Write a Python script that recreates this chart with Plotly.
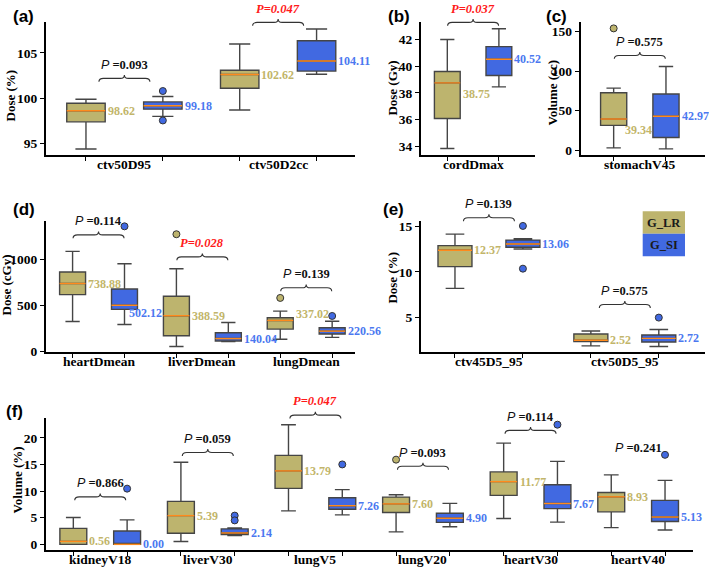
import plotly.graph_objects as go

# ---------------- data ----------------
# every box is [lower whisker, q1, median, q3, upper whisker]
a_cats = ["ctv50D95", "ctv50D2cc"]
a_lr = [[94.4, 97.4, 98.62, 99.45, 99.9], [98.7, 101.1, 102.62, 103.1, 106.0]]
a_si = [[98.0, 98.8, 99.18, 99.6, 100.2], [102.65, 103.0, 104.11, 106.35, 107.65]]
a_lr_out = [[], []]
a_si_out = [[100.8, 97.55], []]
a_p = [0.093, 0.047]
a_brace = [102.2, 108.38]

b_cats = ["cordDmax"]
b_lr = [[33.83, 36.08, 38.75, 39.6, 42.0]]
b_si = [[38.45, 39.3, 40.52, 41.46, 42.8]]
b_lr_out = [[]]
b_si_out = [[]]
b_p = [0.037]
b_brace = [43.28]

c_cats = ["stomachV45"]
c_lr = [[2.9, 31.4, 39.34, 72.7, 78.5]]
c_si = [[1.6, 16.1, 42.97, 71.0, 105.8]]
c_lr_out = [[154]]
c_si_out = [[]]
c_p = [0.575]
c_brace = [119.8]

d_cats = ["heartDmean", "liverDmean", "lungDmean"]
d_lr = [[325, 618, 738.88, 864, 1089], [54, 171, 388.59, 600, 900], [132, 243, 337.02, 367, 439]]
d_si = [[293, 457, 502.12, 679, 954], [107, 114, 140.04, 204, 314], [153, 190, 220.56, 257, 329]]
d_lr_out = [[], [1275], [582]]
d_si_out = [[1361], [], [386]]
d_p = [0.114, 0.028, 0.139]
d_brace = [1268, 1029, 692]

e_cats = ["ctv45D5_95", "ctv50D5_95"]
e_lr = [[8.2, 10.58, 12.37, 12.88, 14.14], [1.9, 2.37, 2.52, 3.2, 3.53]]
e_si = [[12.52, 12.7, 13.06, 13.49, 13.63], [1.83, 2.33, 2.72, 3.1, 3.7]]
e_lr_out = [[], []]
e_si_out = [[15.04, 10.36], [5.0]]
e_p = [0.139, 0.575]
e_brace = [15.94, 6.44]

f_cats = ["kidneyV18", "liverV30", "lungV5", "lungV20", "heartV30", "heartV40"]
f_lr = [[0, 0, 0.56, 3.0, 5.05], [0.55, 2.1, 5.39, 8.06, 15.4], [6.28, 10.5, 13.79, 16.7, 22.46],
        [2.34, 5.97, 7.60, 8.87, 9.3], [4.86, 9.2, 11.77, 13.6, 19.0], [3.14, 6.1, 8.93, 9.72, 13.05]]
f_si = [[0, 0, 0.0, 2.5, 4.6], [1.66, 1.85, 2.14, 2.9, 3.08], [5.54, 6.6, 7.26, 8.74, 10.28],
        [3.32, 4.12, 4.90, 5.85, 7.7], [4.18, 6.7, 7.67, 11.2, 15.57], [2.7, 4.3, 5.13, 8.25, 12.0]]
f_lr_out = [[], [], [], [15.9], [], []]
f_si_out = [[10.46], [5.4, 4.5], [15.0], [], [22.46], [16.8]]
f_p = [0.866, 0.059, 0.047, 0.093, 0.114, 0.241]
f_brace = [8.92, 17.23, 24.25, 14.65, 21.4, 15.45]
f_brace_drawn = [True, True, True, True, True, False]

# median labels that were pushed away from the median line (panel, category, group): y value
moved_labels = {("c", 0, 0): 25.2, ("b", 0, 0): 37.9, ("d", 0, 1): 420, ("d", 2, 0): 405}

# ---------------- styling ----------------
W, H = 709, 574
LR_FILL = "#BDB46E"
SI_FILL = "#4169E1"
LR_TXT = "#C2B56A"
SI_TXT = "#4B78F0"
EDGE = "#454545"
MED = "#FF8A1C"
SERIF = "Liberation Serif, Times New Roman, serif"
SANS = "Liberation Sans, Arial, sans-serif"

panels = [
    dict(tag="(a)", cats=a_cats, lr=a_lr, si=a_si, lr_out=a_lr_out, si_out=a_si_out, p=a_p, brace=a_brace,
         px=(46, 20.7, 355, 155.5), xr=(-0.51, 1.5), yr=(93.73, 108.38), yt=[95, 100, 105],
         title="Dose (%)", title_xy=(11, 95), tag_xy=(23, 15)),
    dict(tag="(b)", cats=b_cats, lr=b_lr, si=b_si, lr_out=b_lr_out, si_out=b_si_out, p=b_p, brace=b_brace,
         px=(421, 20.7, 535, 155.5), xr=(-0.505, 0.6), yr=(33.34, 43.28), yt=[34, 36, 38, 40, 42],
         title="Dose (Gy)", title_xy=(393, 88), tag_xy=(399, 15)),
    dict(tag="(c)", cats=c_cats, lr=c_lr, si=c_si, lr_out=c_lr_out, si_out=c_si_out, p=c_p, brace=c_brace,
         px=(580.7, 20.7, 705, 155.5), xr=(-0.565, 0.623), yr=(-6.2, 161.6), yt=[0, 50, 100, 150],
         title="Volume (cc)", title_xy=(553, 92), tag_xy=(556, 15)),
    dict(tag="(d)", cats=d_cats, lr=d_lr, si=d_si, lr_out=d_lr_out, si_out=d_si_out, p=d_p, brace=d_brace,
         px=(46, 222.3, 355, 355.7), xr=(-0.506, 2.47), yr=(-7.5, 1421), yt=[0, 500, 1000],
         title="Dose (cGy)", title_xy=(6, 288), tag_xy=(24, 211)),
    dict(tag="(e)", cats=e_cats, lr=e_lr, si=e_si, lr_out=e_lr_out, si_out=e_si_out, p=e_p, brace=e_brace,
         px=(421, 222.3, 705, 355.7), xr=(-0.5, 1.59), yr=(1.22, 15.6), yt=[5, 10, 15],
         title="Dose (%)", title_xy=(393, 280), tag_xy=(393, 211)),
    dict(tag="(f)", cats=f_cats, lr=f_lr, si=f_si, lr_out=f_lr_out, si_out=f_si_out, p=f_p, brace=f_brace,
         drawn=f_brace_drawn, px=(46, 422.7, 693, 556.7), xr=(-0.504, 5.51), yr=(-1.05, 23.7),
         yt=[0, 5, 10, 15, 20], title="Volume (%)", title_xy=(17, 486), tag_xy=(15, 416)),
]

fig = go.Figure()
annotations = []
shapes = []
BW = 0.25

for n, pn in enumerate(panels, start=1):
    xa = "x" if n == 1 else f"x{n}"
    ya = "y" if n == 1 else f"y{n}"
    x0, y0, x1, y1 = pn["px"]
    key = pn["tag"][1]

    def to_px(xv, yv, pn=pn):
        X0, Y0, X1, Y1 = pn["px"]
        xr, yr = pn["xr"], pn["yr"]
        return (X0 + (xv - xr[0]) / (xr[1] - xr[0]) * (X1 - X0),
                Y1 - (yv - yr[0]) / (yr[1] - yr[0]) * (Y1 - Y0))

    tick_pos = []
    for j, cat in enumerate(pn["cats"]):
        groups = [(pn["lr"][j], pn["lr_out"][j], LR_FILL, LR_TXT, -0.25),
                  (pn["si"][j], pn["si_out"][j], SI_FILL, SI_TXT, 0.25)]
        for g, (st, out, fill, tcol, off) in enumerate(groups):
            pos = j + off
            tick_pos.append(pos)
            lo, q1, med, q3, hi = st
            fig.add_trace(go.Box(
                x=[pos], lowerfence=[lo], q1=[q1], median=[med], q3=[q3], upperfence=[hi],
                width=BW, whiskerwidth=0.55, fillcolor=fill, line=dict(color=EDGE, width=1.4),
                xaxis=xa, yaxis=ya, showlegend=False, hoverinfo="skip"))
            fig.add_trace(go.Scatter(
                x=[pos - BW / 2, pos + BW / 2], y=[med, med], mode="lines",
                line=dict(color=MED, width=1.4), xaxis=xa, yaxis=ya,
                showlegend=False, hoverinfo="skip"))
            if out:
                fig.add_trace(go.Scatter(
                    x=[pos] * len(out), y=out, mode="markers", cliponaxis=False,
                    marker=dict(color=fill, size=7, line=dict(color="#333333", width=1)),
                    xaxis=xa, yaxis=ya, showlegend=False, hoverinfo="skip"))
            ly = moved_labels.get((key, j, g), med)
            xs = 1.5
            if (key, j, g) == ("c", 0, 0):
                xs = -3
            if (key, j, g) == ("d", 0, 1):
                xs = -9
            annotations.append(dict(
                x=pos + BW / 2, y=ly, xref=xa, yref=ya, xanchor="left", yanchor="middle",
                xshift=xs, text=f"<b>{med:.2f}</b>", showarrow=False, borderpad=0,
                font=dict(family=SERIF, size=12, color=tcol)))

        # category label under the pair of boxes
        cx, _ = to_px(j, 0)
        annotations.append(dict(
            x=cx / W, y=1 - (y1 + 9.5) / H, xref="paper", yref="paper", xanchor="center",
            yanchor="middle", text=f"<b>{cat}</b>", showarrow=False,
            font=dict(family=SERIF, size=13.5, color="black")))

        # p-value brace and text
        p = pn["p"][j]
        by = pn["brace"][j]
        if p < 0.05:
            ptxt = f"<b><i>P={p:.3f}</i></b>"
            pcol = "#FF1A1A"
        else:
            ptxt = (f"<span style=\"font-family:'Liberation Sans'\"><i>P</i></span>"
                    f" <b>={p:.3f}</b>")
            pcol = "#111111"
        cx, fy = to_px(j, by)
        annotations.append(dict(
            x=cx / W, y=1 - (fy - 14) / H, xref="paper", yref="paper", yanchor="middle",
            xanchor="center", text=ptxt, showarrow=False,
            font=dict(family=SERIF, size=12.5, color=pcol)))
        if pn.get("drawn", [True] * len(pn["cats"]))[j]:
            pts = [("M", cx - 25.5, fy + 3.5), ("Q", cx - 25.5, fy), ("", cx - 21, fy),
                   ("L", cx - 4, fy), ("Q", cx, fy), ("", cx, fy - 3.5),
                   ("Q", cx, fy), ("", cx + 4, fy), ("L", cx + 21, fy),
                   ("Q", cx + 25.5, fy), ("", cx + 25.5, fy + 3.5)]
            path = " ".join(f"{c} {px / W:.5f},{1 - py / H:.5f}" if c else f"{px / W:.5f},{1 - py / H:.5f}"
                            for c, px, py in pts)
            shapes.append(dict(type="path", path=path, xref="paper", yref="paper",
                               line=dict(color="#333333", width=1.1)))

    dom_x = [x0 / W, x1 / W]
    dom_y = [1 - y1 / H, 1 - y0 / H]
    fig.layout["xaxis" if n == 1 else f"xaxis{n}"] = dict(
        domain=dom_x, anchor=ya, range=list(pn["xr"]), autorange=False, tickmode="array",
        tickvals=tick_pos, showticklabels=False, ticks="outside", ticklen=4,
        tickwidth=1.3, tickcolor="black",
        showline=True, linecolor="black", linewidth=2, showgrid=False, zeroline=False)
    fig.layout["yaxis" if n == 1 else f"yaxis{n}"] = dict(
        domain=dom_y, anchor=xa, range=list(pn["yr"]), autorange=False, tickmode="array",
        tickvals=pn["yt"], ticks="outside", ticklen=4, tickwidth=1.3, tickcolor="black",
        showline=True, linecolor="black", linewidth=2, showgrid=False, zeroline=False,
        tickfont=dict(family=SERIF, size=13.5, color="black", weight="bold"))

    tx, ty = pn["title_xy"]
    annotations.append(dict(x=tx / W, y=1 - ty / H, xref="paper", yref="paper", textangle=-90,
                            text=f"<b>{pn['title']}</b>", showarrow=False,
                            xanchor="center", yanchor="middle",
                            font=dict(family=SERIF, size=13, color="black")))
    gx, gy = pn["tag_xy"]
    annotations.append(dict(x=gx / W, y=1 - gy / H, xref="paper", yref="paper",
                            text=f"<b>{pn['tag']}</b>", showarrow=False,
                            xanchor="center", yanchor="middle",
                            font=dict(family=SANS, size=17, color="black")))

# legend patches in panel (e)
for name, fill, top in [("G_LR", LR_FILL, 212.7), ("G_SI", SI_FILL, 235.5)]:
    shapes.append(dict(type="rect", xref="paper", yref="paper", x0=642.7 / W, x1=685 / W,
                       y0=1 - (top + 22.8) / H, y1=1 - top / H, fillcolor=fill,
                       line=dict(width=0)))
    annotations.append(dict(x=663.8 / W, y=1 - (top + 11.4) / H, xref="paper", yref="paper",
                            text=f"<b>{name}</b>", showarrow=False, xanchor="center",
                            yanchor="middle", font=dict(family=SERIF, size=12.5, color="#1a1a1a")))

fig.update_layout(width=W, height=H, margin=dict(l=0, r=0, t=0, b=0),
                  paper_bgcolor="white", plot_bgcolor="white", showlegend=False,
                  annotations=annotations, shapes=shapes, boxmode="overlay")

# the page body has a default 8px margin; drop it so the figure fills the window
fig.write_html("out.html", config={"displayModeBar": False},
               post_script="document.body.style.margin='0px';")
